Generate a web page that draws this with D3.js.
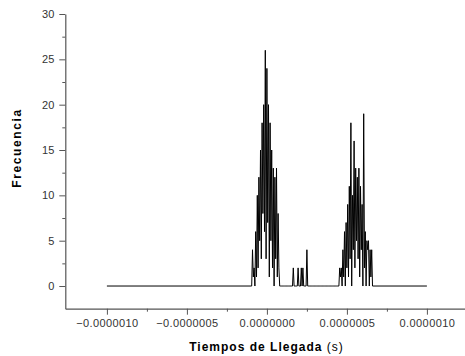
<!DOCTYPE html>
<html><head><meta charset="utf-8">
<script src="https://cdn.jsdelivr.net/npm/d3@7"></script>
<style>
body{margin:0;background:#fff;}
svg{display:block;font-family:"Liberation Sans",Arial,sans-serif;}
</style></head>
<body><svg id="c" width="465" height="356"></svg>
<script>
// ---- data ----
const timeStart = -1.0e-6;      // first bin of the histogram (s)
const timeEnd = 1.0e-6;         // last bin of the histogram (s)
const burstStart = -0.095e-6;   // time of first count in the list below
const binWidth = 5e-9;          // histogram bin width (s)
const counts = [
  0,4,1,2,0,6,1,10,2,12,5,15,3,18,8,20,6,26,3,24,7,20,1,18,5,15,2,13,0,12,3,13,1,8,2,0,
  0,0,0,0,0,0,0,0,0,0,0,0,0,0,0,0,
  2,0,0,0,0,0,2,0,0,0,2,0,2,0,0,0,0,4,0,
  0,0,0,0,0,0,0,0,0,0,0,0,0,0,0,0,0,0,0,0,0,0,0,0,0,0,0,0,0,0,0,0,0,0,0,0,0,0,
  0,2,1,2,0,4,1,6,0,7,2,9,1,11,3,18,0,10,4,16,2,13,5,12,3,13,1,11,4,9,0,19,2,6,0,5,4,5,0,4,1,4,0
];
const xTicks = [-1.0e-6, -0.5e-6, 0, 0.5e-6, 1.0e-6];
const xMinorTicks = [-0.75e-6, -0.25e-6, 0.25e-6, 0.75e-6];
const yTicks = [0, 5, 10, 15, 20, 25, 30];
const yMinorTicks = [2.5, 7.5, 12.5, 17.5, 22.5, 27.5];
const xTitle = "Tiempos de Llegada";
const xUnit = "(s)";
const yTitle = "Frecuencia";

// ---- chart ----
const svg = d3.select("#c");
const x = d3.scaleLinear().domain([-1.26e-6, 1.24e-6]).range([65.3, 465.3]);
const y = d3.scaleLinear().domain([-2.5, 30]).range([308.7, 14]);

const pts = [[timeStart, 0]];
counts.forEach((c, i) => pts.push([burstStart + i * binWidth, c]));
pts.push([timeEnd, 0]);

svg.append("path")
  .datum(pts)
  .attr("fill", "none")
  .attr("stroke", "#000")
  .attr("stroke-width", 1)
  .attr("d", d3.line().x(d => x(d[0])).y(d => y(d[1])));

const axisColor = "#555";
function style(g){
  g.select(".domain").attr("stroke", axisColor).attr("stroke-width", 1.2);
  g.selectAll(".tick line").attr("stroke", axisColor);
  g.selectAll(".tick text").attr("fill", "#333").style("font-size", "11px");
}
// y axis
svg.append("g").attr("transform", "translate(65.3,0)")
  .call(d3.axisLeft(y).tickValues(yTicks).tickSize(6).tickPadding(5).tickSizeOuter(0).tickFormat(d3.format("d")))
  .call(style);
svg.append("g").attr("transform", "translate(65.3,0)")
  .call(d3.axisLeft(y).tickValues(yMinorTicks).tickSize(3).tickSizeOuter(0).tickFormat(""))
  .call(style).call(g => g.select(".domain").remove());
// x axis
svg.append("g").attr("transform", "translate(0,308.7)")
  .call(d3.axisBottom(x).tickValues(xTicks).tickSize(6).tickPadding(5).tickSizeOuter(0).tickFormat(d3.format(".7f")))
  .call(style).call(g => g.selectAll(".tick text").style("letter-spacing", "0.4px"));
svg.append("g").attr("transform", "translate(0,308.7)")
  .call(d3.axisBottom(x).tickValues(xMinorTicks).tickSize(3).tickSizeOuter(0).tickFormat(""))
  .call(style).call(g => g.select(".domain").remove());
svg.selectAll("g").attr("font-family", null);

// titles
const xt = svg.append("text").attr("x", 266.5).attr("y", 351)
  .attr("text-anchor", "middle").style("font-size", "12px").style("letter-spacing", "1px").attr("fill", "#000");
xt.append("tspan").style("font-weight", "bold").text(xTitle);
xt.append("tspan").text(" " + xUnit);

svg.append("text").attr("transform", "translate(21,148) rotate(-90)")
  .attr("text-anchor", "middle").style("font-size", "12px").style("font-weight", "bold")
  .style("letter-spacing", "1.6px").attr("fill", "#000").text(yTitle);
</script></body></html>
